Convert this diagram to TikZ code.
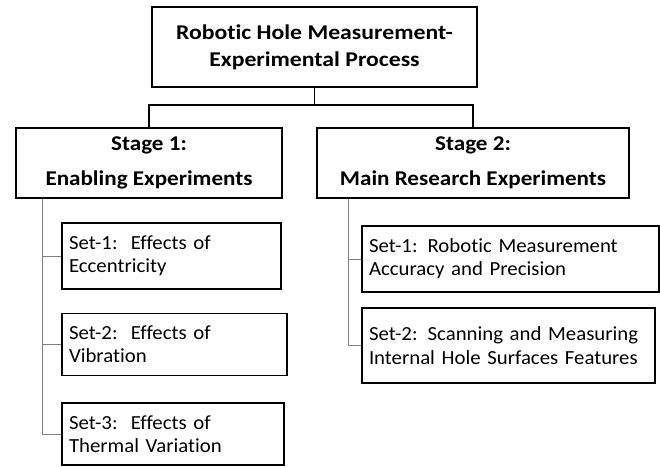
\documentclass[tikz,border=0pt]{standalone}
\usepackage{fontspec}
\setmainfont[Ligatures=NoCommon]{Carlito}
\newfontfamily\headfont[FakeStretch=1.13,Ligatures=NoCommon]{Carlito}
\newfontfamily\stagefont[FakeStretch=1.10,Ligatures=NoCommon]{Carlito}
\newfontfamily\setfont[FakeStretch=1.04,Ligatures=NoCommon]{Carlito}
\begin{document}
\begin{tikzpicture}[x=1pt,y=-1pt,
  box/.style={draw=black,line width=1.6pt,fill=white,inner sep=0pt},
  head/.style={box,font=\headfont\bfseries\fontsize{21}{26.7}\selectfont,align=center},
  stagebox/.style={box,font=\stagefont\bfseries\fontsize{21}{35}\selectfont,align=center},
  setbox/.style={box,font=\setfont\fontsize{20}{23.3}\selectfont,align=left,inner xsep=7pt},
  conn/.style={draw=black,line width=1.5pt},
  tree/.style={draw=black!50,line width=1pt}]
\useasboundingbox (0,0) rectangle (660,466);
\node[head,minimum width=325pt,minimum height=80pt] (title) at (314.5,47)
  {Robotic Hole Measurement-\\Experimental Process};
\node[stagebox,minimum width=266pt,minimum height=70pt] (st1) at (149,163)
  {Stage 1:\\Enabling Experiments};
\node[stagebox,minimum width=312pt,minimum height=70pt] (st2) at (473,163)
  {Stage 2:\\Main Research Experiments};
\node[setbox,text width=205pt,minimum height=66pt] (l1) at (171.5,256) {Set-1:\ \ Effects of\\Eccentricity};
\node[setbox,text width=211pt,minimum height=62pt] (l2) at (174.5,344.5) {Set-2:\ \ Effects of\\Vibration};
\node[setbox,text width=208pt,minimum height=62pt] (l3) at (173,434) {Set-3:\ \ Effects of\\Thermal Variation};
\node[setbox,text width=283pt,minimum height=66pt] (r1) at (510.5,259) {Set-1: Robotic Measurement\\Accuracy and Precision};
\node[setbox,text width=279pt,minimum height=75pt] (r2) at (508.5,345.5) {Set-2: Scanning and Measuring\\Internal Hole Surfaces Features};
\draw[conn] (title.south) -- ++(0,17) coordinate (j) -| (st1.north);
\draw[conn] (j) -| (st2.north);
\coordinate (t1) at ([xshift=27pt]st1.south west);
\coordinate (t2) at ([xshift=32pt]st2.south west);
\draw[tree] (t1) |- (l3.west);
\draw[tree] (t1) |- (l1.west);
\draw[tree] (t1) |- (l2.west);
\draw[tree] (t2) |- (r2.west);
\draw[tree] (t2) |- (r1.west);
\end{tikzpicture}
\end{document}
